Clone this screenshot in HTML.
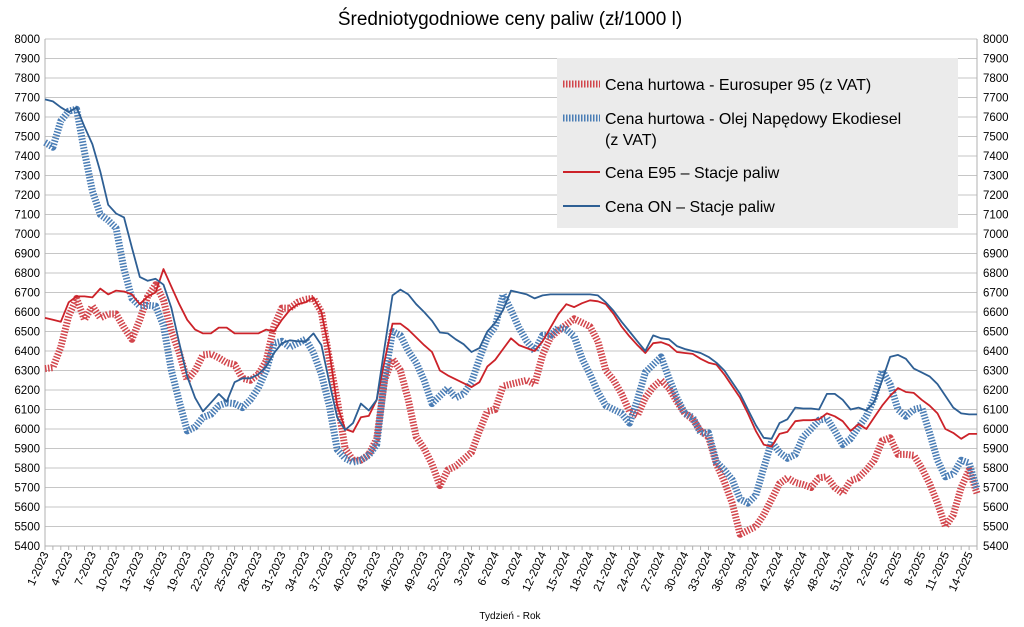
<!DOCTYPE html>
<html><head><meta charset="utf-8"><style>
html,body{margin:0;padding:0;background:#fff;}
svg{display:block;font-family:"Liberation Sans",sans-serif;}
</style></head><body>
<svg id="chart" width="1024" height="627" viewBox="0 0 1024 627">
<text x="510" y="25" text-anchor="middle" font-size="19" fill="#000">Średniotygodniowe ceny paliw (zł/1000 l)</text>
<g id="grid"></g>
<g id="yl"></g>
<g id="yr"></g>
<g id="xa"></g>
<g id="series"></g>
<text x="510" y="619" text-anchor="middle" font-size="10" fill="#000">Tydzień - Rok</text>
<g>
<rect x="557" y="58" width="401" height="170" fill="#ebebeb"/>
<g>
<line x1="563" y1="84" x2="600" y2="84" stroke="#d2454b" stroke-width="7" stroke-dasharray="1.5 1.5"/>
<text x="605" y="90" font-size="16">Cena hurtowa  - Eurosuper 95 (z VAT)</text></g>
<g>
<line x1="563" y1="118" x2="600" y2="118" stroke="#4a7db5" stroke-width="7" stroke-dasharray="1.5 1.5"/>
<text x="605" y="124" font-size="16">Cena hurtowa - Olej Napędowy Ekodiesel</text>
<text x="605" y="145" font-size="16">(z VAT)</text></g>
<g>
<line x1="563" y1="172" x2="600" y2="172" stroke="#cc2229" stroke-width="2"/>
<text x="605" y="178" font-size="16">Cena E95 – Stacje paliw</text></g>
<g>
<line x1="563" y1="206" x2="600" y2="206" stroke="#2e5f94" stroke-width="2"/>
<text x="605" y="212" font-size="16">Cena ON – Stacje paliw</text></g>
</g>
</svg>
<script>
const weeks2023 = 52, weeks2024 = 52, weeks2025 = 15;
const categories = [];
for (let w = 1; w <= weeks2023; w++) categories.push(w + '-2023');
for (let w = 1; w <= weeks2024; w++) categories.push(w + '-2024');
for (let w = 1; w <= weeks2025; w++) categories.push(w + '-2025');
const yTicks = [5400,5500,5600,5700,5800,5900,6000,6100,6200,6300,6400,6500,6600,6700,6800,6900,7000,7100,7200,7300,7400,7500,7600,7700,7800,7900,8000];
const e95Wholesale = [6310,6315,6420,6580,6670,6560,6630,6570,6590,6590,6520,6460,6560,6680,6740,6660,6500,6390,6250,6300,6380,6385,6365,6340,6330,6260,6250,6280,6350,6530,6620,6620,6650,6665,6670,6600,6360,6150,5900,5840,5840,5870,5950,6250,6360,6300,6150,5960,5900,5820,5710,5790,5810,5845,5880,5990,6090,6100,6220,6230,6240,6250,6230,6380,6470,6505,6535,6565,6545,6525,6450,6300,6250,6180,6090,6070,6160,6215,6250,6210,6140,6080,6050,5990,5960,5820,5730,5620,5460,5480,5500,5560,5640,5720,5750,5725,5715,5700,5750,5755,5700,5670,5735,5750,5790,5840,5940,5955,5870,5870,5865,5800,5720,5620,5500,5560,5700,5790,5670];
const onWholesale = [7470,7445,7580,7630,7640,7420,7220,7100,7070,7030,6820,6670,6630,6635,6630,6530,6300,6140,5990,6010,6060,6075,6120,6135,6130,6110,6150,6210,6300,6440,6450,6420,6440,6460,6390,6280,6120,5895,5850,5830,5840,5865,5920,6260,6500,6480,6400,6340,6250,6130,6170,6210,6160,6180,6240,6360,6470,6525,6690,6610,6520,6450,6400,6480,6480,6520,6510,6475,6360,6280,6190,6120,6100,6080,6030,6150,6290,6330,6370,6260,6160,6080,6060,5980,5980,5830,5790,5740,5640,5620,5660,5800,5935,5880,5850,5870,5960,6000,6045,6055,5990,5920,5950,6010,6065,6160,6300,6230,6100,6065,6100,6110,5980,5840,5755,5770,5840,5825,5690];
const e95Stations = [6570,6560,6550,6650,6680,6680,6675,6720,6690,6710,6705,6690,6640,6680,6700,6820,6730,6640,6560,6510,6490,6490,6520,6520,6490,6490,6490,6490,6510,6500,6560,6610,6640,6650,6675,6600,6400,6120,6000,5985,6060,6067,6150,6350,6540,6540,6510,6470,6430,6395,6300,6275,6255,6235,6215,6240,6320,6355,6410,6465,6430,6415,6400,6450,6520,6590,6640,6625,6645,6660,6655,6640,6590,6525,6475,6430,6390,6440,6445,6430,6395,6390,6385,6360,6340,6330,6280,6220,6160,6080,5990,5920,5910,5975,5985,6040,6045,6045,6050,6080,6065,6040,5990,6025,6000,6060,6120,6170,6210,6190,6185,6150,6120,6080,6000,5980,5950,5975,5975];
const onStations = [7690,7680,7650,7625,7650,7550,7460,7320,7150,7105,7085,6930,6780,6760,6770,6740,6620,6440,6270,6160,6090,6135,6180,6140,6240,6260,6260,6280,6320,6390,6440,6455,6450,6450,6490,6430,6240,6060,5995,6030,6130,6095,6150,6420,6685,6715,6690,6640,6600,6555,6495,6490,6460,6435,6395,6415,6500,6545,6610,6710,6700,6690,6670,6685,6690,6690,6690,6690,6690,6690,6685,6650,6605,6550,6500,6450,6400,6480,6465,6460,6425,6410,6400,6390,6370,6340,6300,6240,6180,6100,6020,5955,5950,6030,6050,6110,6105,6105,6100,6180,6180,6150,6100,6110,6095,6140,6250,6370,6380,6360,6310,6290,6270,6230,6170,6110,6080,6075,6075];

const NS='http://www.w3.org/2000/svg';
const X0=45, X1=977, Y0=546, Y1=39, VMIN=5400, VMAX=8000;
const n = e95Wholesale.length;
function xs(i){return X0 + (X1-X0)*i/(n-1);}
function ys(v){return Y0 - (v-VMIN)/(VMAX-VMIN)*(Y0-Y1);}
function mk(tag, attrs, parent){const e=document.createElementNS(NS,tag);for(const k in attrs)e.setAttribute(k,attrs[k]);parent.appendChild(e);return e;}
const grid=document.getElementById('grid'), yl=document.getElementById('yl'), yr=document.getElementById('yr'), xa=document.getElementById('xa'), ser=document.getElementById('series');
yTicks.forEach(v=>{
  const g=mk('line',{x1:X0,x2:X1,y1:ys(v),y2:ys(v),stroke:'#c6c6c6','stroke-width':1},grid);
  
  
  const t1=mk('text',{x:40,y:ys(v)+4,'text-anchor':'end','font-size':11.5},yl);t1.textContent=v;
  
  
  const t2=mk('text',{x:983,y:ys(v)+4,'font-size':11.5},yr);t2.textContent=v;
  
  
});
mk('line',{x1:X0,x2:X0,y1:Y1,y2:Y0,stroke:'#b0b0b0'},yl);
mk('line',{x1:X1,x2:X1,y1:Y1,y2:Y0,stroke:'#b0b0b0'},yr);
mk('line',{x1:X0,x2:X1,y1:Y0,y2:Y0,stroke:'#b0b0b0'},xa);
for(let i=0;i<n;i++){
  mk('line',{x1:xs(i),x2:xs(i),y1:Y0,y2:Y0+4,stroke:'#b0b0b0'},xa);
  if(i%3===0){
    const t=mk('text',{x:0,y:0,'text-anchor':'end','font-size':11.5,transform:`translate(${xs(i)+4},${Y0+8}) rotate(-65)`},xa);
    t.textContent=categories[i];
    
    
  }
}
function line(data,color,w,dash,name){
  const d=data.map((v,i)=>(i?'L':'M')+xs(i).toFixed(1)+','+ys(v).toFixed(1)).join('');
  const p=mk('path',{d:d,fill:'none',stroke:color,'stroke-width':w,'stroke-linejoin':'round'},ser);
  if(dash)p.setAttribute('stroke-dasharray',dash);
  
  
}
line(e95Wholesale,'#d2454b',7,'1.5 1.5','series-e95-wholesale');
line(onWholesale,'#4a7db5',7,'1.5 1.5','series-on-wholesale');
line(e95Stations,'#cc2229',1.8,null,'series-e95-stations');
line(onStations,'#2e5f94',1.8,null,'series-on-stations');
</script>
</body></html>
